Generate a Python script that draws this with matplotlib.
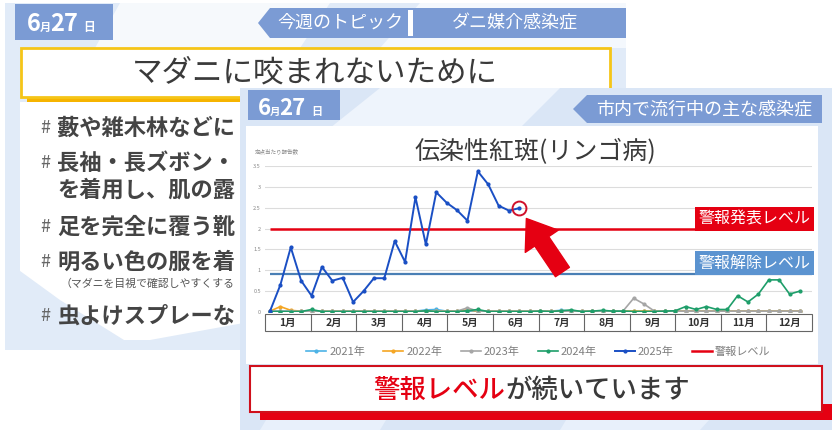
import numpy as np
import matplotlib.pyplot as plt
from matplotlib.patches import Rectangle, Polygon
from matplotlib.lines import Line2D

plt.rcParams['font.family'] = ['Noto Sans CJK JP', 'DejaVu Sans']

# 定点当たり報告数（週ごと）
weeks = list(range(1, 53))
y2021 = [0.02, 0.02, 0.02, 0.02, 0.02, 0.02, 0.02, 0.02, 0.02, 0.02, 0.02, 0.02, 0.02,
         0.02, 0.02, 0.05, 0.06, 0.02, 0.02, 0.02, 0.02, 0.02, 0.02, 0.02, 0.02, 0.02,
         0.02, 0.02, 0.04, 0.02, 0.02, 0.02, 0.02, 0.02, 0.02, 0.02, 0.02, 0.02, 0.02,
         0.02, 0.02, 0.02, 0.02, 0.02, 0.02, 0.02, 0.02, 0.02, 0.02, 0.02, 0.02, 0.02]
y2022 = [0.02, 0.13, 0.04, 0.02, 0.02, 0.02, 0.02, 0.02, 0.02, 0.02, 0.02, 0.02, 0.02,
         0.02, 0.02, 0.02, 0.02, 0.02, 0.02, 0.05, 0.02, 0.02, 0.02, 0.02, 0.02, 0.02,
         0.02, 0.02, 0.02, 0.02, 0.02, 0.02, 0.02, 0.02, 0.02, 0.02, 0.02, 0.02, 0.02,
         0.02, 0.02, 0.02, 0.02, 0.02, 0.02, 0.02, 0.02, 0.02, 0.02, 0.02, 0.02, 0.02]
y2023 = [0.02, 0.02, 0.02, 0.02, 0.02, 0.02, 0.02, 0.02, 0.02, 0.02, 0.02, 0.02, 0.02,
         0.02, 0.02, 0.02, 0.02, 0.02, 0.02, 0.10, 0.02, 0.02, 0.02, 0.02, 0.02, 0.02,
         0.02, 0.02, 0.02, 0.02, 0.02, 0.02, 0.02, 0.02, 0.03, 0.33, 0.19, 0.02, 0.02,
         0.02, 0.02, 0.02, 0.02, 0.02, 0.02, 0.02, 0.02, 0.02, 0.02, 0.02, 0.02, 0.02]
y2024 = [0.01, 0.01, 0.01, 0.01, 0.06, 0.01, 0.01, 0.01, 0.01, 0.01, 0.01, 0.01, 0.01,
         0.01, 0.01, 0.03, 0.01, 0.01, 0.01, 0.03, 0.06, 0.01, 0.01, 0.01, 0.01, 0.01,
         0.02, 0.01, 0.03, 0.05, 0.01, 0.02, 0.04, 0.02, 0.02, 0.01, 0.01, 0.01, 0.02,
         0.03, 0.13, 0.06, 0.13, 0.06, 0.06, 0.39, 0.24, 0.43, 0.77, 0.77, 0.43, 0.50]
y2025 = [0.02, 0.65, 1.55, 0.75, 0.39, 1.08, 0.75, 0.82, 0.24, 0.50, 0.81, 0.81, 1.70,
         1.20, 2.75, 1.62, 2.87, 2.62, 2.44, 2.19, 3.37, 3.06, 2.55, 2.43, 2.49]
alarm_on = 2.0
alarm_off = 0.9
months = ['1月', '2月', '3月', '4月', '5月', '6月', '7月', '8月', '9月', '10月', '11月', '12月']
yticks = [0, 0.5, 1, 1.5, 2, 2.5, 3, 3.5]
ytick_labels = ['0', '0.5', '1', '1.5', '2', '2.5', '3', '3.5']

bullets = ['藪や雑木林などに', '長袖・長ズボン・', 'を着用し、肌の露', '足を完全に覆う靴',
           '明るい色の服を着', '虫よけスプレーな']

c_badge = '#7b9bd4'
c_red = '#e50012'
c_text = '#3a3a3a'

fig = plt.figure(figsize=(8.32, 4.30), dpi=100)
bg = fig.add_axes([0, 0, 1, 1])
bg.set_xlim(0, 832)
bg.set_ylim(430, 0)
bg.axis('off')

# ---- 奥のスライド ----
bg.add_patch(Rectangle((5, 3), 621, 347, fc='#e1ebf8', ec='none', zorder=1))
bg.add_patch(Polygon([(120, 3), (330, 3), (300, 48), (95, 48)], fc='white', alpha=0.7, ec='none', zorder=1.5))
bg.add_patch(Polygon([(420, 3), (626, 3), (626, 48), (380, 48)], fc='#f4f8fd', ec='none', zorder=1.5))
bg.add_patch(Rectangle((20, 102), 606, 238, fc='white', ec='none', zorder=2))
bg.add_patch(Polygon([(5, 260), (60, 300), (140, 350), (5, 350)], fc='#e1ebf8', ec='none', zorder=2.5))
bg.add_patch(Polygon([(150, 340), (260, 320), (400, 350), (120, 350)], fc='#e1ebf8', ec='none', zorder=2.5))

bg.add_patch(Rectangle((15, 4), 98, 36, fc=c_badge, ec='none', zorder=3))
for s, x, fs in [('6', 27, 17), ('月', 40, 8), ('27', 50, 17), ('日', 83, 8.5)]:
    bg.text(x, 31, s, color='white', fontsize=fs, fontweight='bold', ha='left', va='baseline', zorder=4)

bg.add_patch(Polygon([(258, 23), (270, 8), (626, 8), (626, 38), (270, 38)], fc=c_badge, ec='none', zorder=3))
bg.add_patch(Rectangle((408, 10), 5, 26, fc='white', ec='none', zorder=4))
bg.text(340, 23, '今週のトピック', color='white', fontsize=13, ha='center', va='center', zorder=4)
bg.text(515, 23, 'ダニ媒介感染症', color='white', fontsize=13, ha='center', va='center', zorder=4)

bg.add_patch(Rectangle((27, 92), 585, 10, fc='#f6b400', ec='none', zorder=3))
bg.add_patch(Rectangle((21, 48), 589, 49, fc='white', ec='#f5c518', lw=2, zorder=3.5))
bg.text(315, 73, 'マダニに咬まれないために', color=c_text, fontsize=22, ha='center', va='center', zorder=4)

# 手前のスライドで隠れる部分は切り取る
cut = Rectangle((0, 0), 240, 430, transform=bg.transData)
rows = [(128, '#', bullets[0]), (163, '#', bullets[1]), (190, ' ', bullets[2]),
        (227, '#', bullets[3]), (262, '#', bullets[4]), (316, '#', bullets[5])]
for y, mark, s in rows:
    bg.text(40, y, mark, color='#666666', fontsize=13, ha='left', va='center', zorder=4)
    t = bg.text(57, y, s, color='#444444', fontsize=16, fontweight='bold', ha='left', va='center', zorder=4)
    t.set_clip_path(cut)
t = bg.text(60, 284, '（マダニを目視で確認しやすくする', color='#555555', fontsize=7.8,
            ha='left', va='center', zorder=4)
t.set_clip_path(cut)

# ---- 手前のスライド ----
bg.add_patch(Rectangle((240, 88), 592, 342, fc='#dae6f6', ec='none', zorder=10))
bg.add_patch(Polygon([(380, 88), (560, 88), (520, 128), (330, 128)], fc='#eef4fc', ec='none', zorder=10.5))
bg.add_patch(Polygon([(600, 364), (760, 364), (700, 430), (560, 430)], fc='#e8f0fb', ec='none', zorder=10.5))
bg.add_patch(Polygon([(300, 364), (420, 364), (380, 430), (260, 430)], fc='#e8f0fb', ec='none', zorder=10.5))
bg.add_patch(Rectangle((246, 126), 572, 238, fc='white', ec='none', zorder=11))

bg.add_patch(Rectangle((248, 90), 92, 30, fc=c_badge, ec='none', zorder=12))
for s, x, fs in [('6', 258, 16), ('月', 270, 7.5), ('27', 279, 16), ('日', 311, 8)]:
    bg.text(x, 115, s, color='white', fontsize=fs, fontweight='bold', ha='left', va='baseline', zorder=13)

bg.add_patch(Polygon([(573, 109), (587, 95), (822, 95), (822, 123), (587, 123)], fc=c_badge, ec='none', zorder=12))
bg.text(704, 109, '市内で流行中の主な感染症', color='white', fontsize=13, ha='center', va='center', zorder=13)

bg.text(535, 152, '伝染性紅斑(リンゴ病)', color=c_text, fontsize=18, ha='center', va='center', zorder=13)
bg.text(255, 151, '定点当たり報告数', color='#888888', fontsize=4, ha='left', va='center', zorder=13)

bg.add_patch(Rectangle((260, 404), 572, 16, fc=c_red, ec='none', zorder=12))
bg.add_patch(Rectangle((250, 366), 572, 46, fc='white', ec='#d0101c', lw=1.5, zorder=12.5))
bg.text(505, 390, '警報レベル', color=c_red, fontsize=19, fontweight='medium', ha='right', va='center', zorder=13)
bg.text(505, 390, 'が続いています', color=c_text, fontsize=19, fontweight='medium', ha='left', va='center', zorder=13)

# ---- グラフ ----
ax = fig.add_axes([265 / 832, (430 - 312) / 430, 547 / 832, 146 / 430], zorder=5)
ax.patch.set_alpha(0)
x_right = 53.16
ax.set_xlim(0.52, x_right)
ax.set_ylim(0, 3.5)
ax.set_yticks(yticks)
ax.set_yticklabels(ytick_labels, fontsize=4, color='#888888')
ax.tick_params(axis='y', length=0, pad=3)
ax.set_xticks([])
for sp in ax.spines.values():
    sp.set_visible(False)
ax.grid(axis='y', color='#dcdcdc', lw=0.8)
ax.set_axisbelow(True)

ax.hlines(alarm_on, weeks[0], x_right, color=c_red, lw=1.8, zorder=2)
ax.hlines(alarm_off, weeks[0], x_right, color='#4a7fb5', lw=1.6, zorder=2)

series = [(y2021, '#4db3e6', '2021年'), (y2022, '#f5a623', '2022年'),
          (y2023, '#a6a6a6', '2023年'), (y2024, '#1e9e6a', '2024年')]
for vals, col, lab in series:
    ax.plot(weeks, vals, color=col, lw=1.2, marker='o', ms=2, zorder=3)
ax.plot(weeks[:len(y2025)], y2025, color='#1a4fc4', lw=1.4, marker='o', ms=2, zorder=4)

# 最新週を丸で囲み、矢印で示す
ax.plot(weeks[len(y2025) - 1], y2025[-1], marker='o', ms=10, mfc='none', mec='#d0102a', mew=1.4, zorder=5)
ax.annotate('', xy=(weeks[len(y2025) - 1], y2025[-1]), xytext=(31, -46), textcoords='offset points',
            arrowprops=dict(arrowstyle='simple,head_length=0.9,head_width=1.3,tail_width=0.55',
                            mutation_scale=22, color=c_red, shrinkA=0, shrinkB=9), zorder=6)

ax.text(x_right - 0.15, alarm_on + 0.03, '警報発表レベル', color='white', fontsize=11.5, ha='right', va='bottom',
        bbox=dict(boxstyle='square,pad=0.22', fc=c_red, ec='none'), zorder=6)
ax.text(x_right - 0.15, alarm_off + 0.07, '警報解除レベル', color='white', fontsize=11.5, ha='right', va='bottom',
        bbox=dict(boxstyle='square,pad=0.22', fc='#5b93d0', ec='none'), zorder=6)

# 月の目盛り枠
top, bot = -2 / 146, -19 / 146
ax.add_patch(Rectangle((0, bot), 1, top - bot, transform=ax.transAxes, fc='none', ec='#666666',
                       lw=0.8, clip_on=False))
for i, m in enumerate(months):
    if i > 0:
        ax.plot([i / 12, i / 12], [bot, top], transform=ax.transAxes, color='#666666', lw=0.8, clip_on=False)
    ax.text((i + 0.5) / 12, (top + bot) / 2, m, transform=ax.transAxes, fontsize=7.5, fontweight='bold',
            color='#333333', ha='center', va='center')

handles = [Line2D([], [], color=col, lw=1.2, marker='o', ms=2) for _, col, _ in series]
handles.append(Line2D([], [], color='#1a4fc4', lw=1.4, marker='o', ms=2))
handles.append(Line2D([], [], color=c_red, lw=1.8))
labels = [lab for _, _, lab in series] + ['2025年', '警報レベル']
ax.legend(handles, labels, loc='center', bbox_to_anchor=(0.5, -0.274), ncol=6, frameon=False,
          fontsize=8, handlelength=1.8, handletextpad=0.3, columnspacing=1.6, labelcolor='#7f7f7f')

fig.savefig('out.png', dpi=100)
